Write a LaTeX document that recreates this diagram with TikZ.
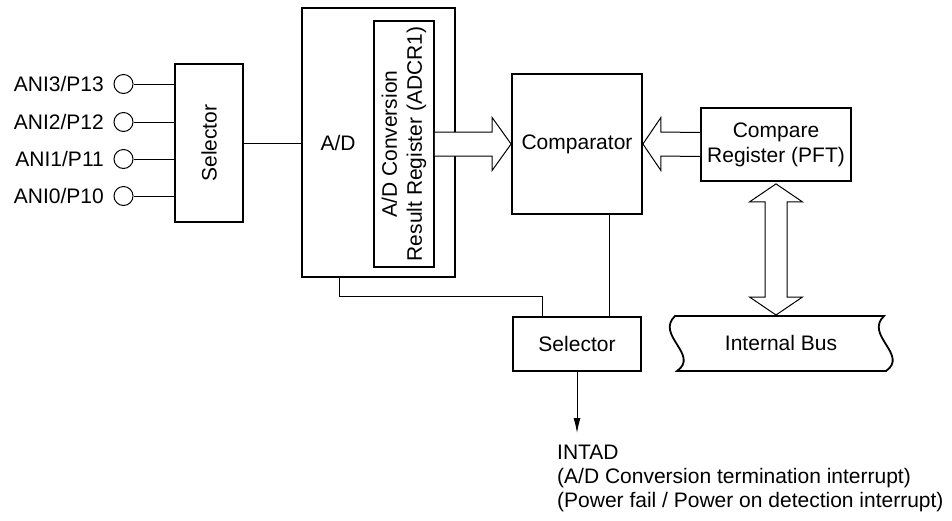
\documentclass[tikz,border=0pt]{standalone}
\usepackage{fontspec}
\setmainfont{Liberation Sans}
\usetikzlibrary{calc,arrows.meta}
\begin{document}
\begin{tikzpicture}[x=1pt,y=1pt,
  font=\fontsize{21}{25}\selectfont,
  box/.style={draw,line width=1.8pt,inner sep=0pt},
  wire/.style={line width=1pt},
  pin/.style={draw,circle,line width=1pt,minimum size=19pt,inner sep=0pt},
  pinlabel/.style={anchor=base east,inner sep=0pt},
  bigarrow/.style={draw,fill=white,line width=1pt,line join=miter},
]
\useasboundingbox (0,0) rectangle (952,-520);

% boxes
\node[box,minimum width=68,minimum height=158] (selL) at (209,-143) {};
\node[rotate=90] (selLt) at (selL.center) {Selector};
\node[box,minimum width=153,minimum height=269] (ad) at (378.5,-142.5) {};
\node (adt) at (338,-143) {A/D};
\node[box,minimum width=60,minimum height=246] (reg) at (404,-144) {};
\node[rotate=90,align=center] (regt) at (reg.center) {A/D Conversion\\Result Register (ADCR1)};
\node[box,minimum width=130,minimum height=140] (comp) at (577,-144) {Comparator};
\node[box,minimum width=150,minimum height=73,align=center] (cmpreg) at (776,-144.5) {Compare\\Register (PFT)};
\node[box,minimum width=128,minimum height=54] (selB) at (577,-344) {Selector};

% internal bus
\draw[line width=1.8pt] (675,-316) -- (884,-316)
  .. controls (864,-335) and (909,-355) .. (886,-371) -- (677,-371)
  .. controls (700,-355) and (655,-335) .. cycle;
\node (bus) at (781,-343) {Internal Bus};

% pins
\node[pin] (p3) at (123.5,-84) {};
\node[pin] (p2) at (123.5,-122) {};
\node[pin] (p1) at (123.5,-159) {};
\node[pin] (p0) at (123.5,-196) {};
\node[pinlabel] (l3) at ($(p3)+(-19.5,-7.5)$) {ANI3/P13};
\node[pinlabel] (l2) at ($(p2)+(-19.5,-7.5)$) {ANI2/P12};
\node[pinlabel] (l1) at ($(p1)+(-19.5,-7.5)$) {ANI1/P11};
\node[pinlabel] (l0) at ($(p0)+(-19.5,-7.5)$) {ANI0/P10};
\draw[wire] (p3.east) -- (p3.east -| selL.west);
\draw[wire] (p2.east) -- (p2.east -| selL.west);
\draw[wire] (p1.east) -- (p1.east -| selL.west);
\draw[wire] (p0.east) -- (p0.east -| selL.west);

% wires
\draw[wire] (selL.east) -- (selL.east -| ad.west);
\draw[wire] ($(ad.south west)+(38,0)$) -- ++(0,-19) -| ($(selB.north west)+(30,0)$);
\draw[wire] ($(comp.south)+(32,0)$) -- ($(selB.north)+(32,0)$);

% output
\node[anchor=north west,align=left,inner sep=0pt,font=\fontsize{21}{24}\selectfont] (intad) at (557,-445)
  {INTAD\\(A/D Conversion termination interrupt)\\(Power fail / Power on detection interrupt)};
\coordinate (outend) at (577,-433);
\draw[wire,-{Latex[length=15pt,width=7pt]}] (selB.south) -- (outend);

% big arrows
\draw[bigarrow] ($(reg.east)+(0,12)$) -- ($(comp.west)+(-19,12)$) -- ($(comp.west)+(-19,26.5)$)
  -- (comp.west) -- ($(comp.west)+(-19,-26.5)$) -- ($(comp.west)+(-19,-12)$) -- ($(reg.east)+(0,-12)$);
\draw[bigarrow] ($(cmpreg.west)+(0,12)$) -- ($(comp.east)+(18,12)$) -- ($(comp.east)+(18,26.5)$)
  -- (comp.east) -- ($(comp.east)+(18,-26.5)$) -- ($(comp.east)+(18,-12)$) -- ($(cmpreg.west)+(0,-12)$);
\coordinate (T) at ($(cmpreg.south)+(0,-2)$);
\coordinate (B) at (776,-315);
\draw[bigarrow] (T) -- ++(26.5,-18) -- ++(-15.5,0) -- ($(B)+(11,18)$) -- ++(15.5,0) -- (B)
  -- ++(-26.5,18) -- ++(15.5,0) -- ($(T)+(-11,-18)$) -- ++(-15.5,0) -- cycle;
\end{tikzpicture}
\end{document}
